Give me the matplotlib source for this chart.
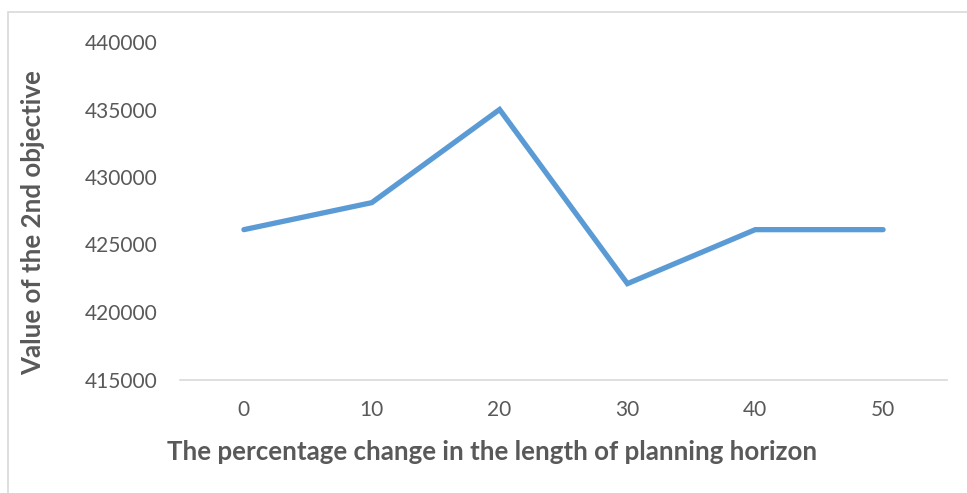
import matplotlib.pyplot as plt
from matplotlib.patches import Rectangle

# percentage change in planning horizon vs value of 2nd objective
pct_change = ["0", "10", "20", "30", "40", "50"]
obj2_value = [426100, 428100, 435000, 422100, 426100, 426100]

y_ticks = [415000, 420000, 425000, 430000, 435000, 440000]

txt_col = "#595959"
plt.rcParams['font.family'] = ['Lato', 'DejaVu Sans']

fig = plt.figure(figsize=(9.67, 4.93), dpi=100)
ax = fig.add_axes([180 / 967, 1 - 379.5 / 493, (947 - 180) / 967, (379.5 - 42) / 493])

xs = range(len(pct_change))
ax.plot(xs, obj2_value, color="#5B9BD5", lw=3.8, solid_capstyle="round",
        solid_joinstyle="miter")

ax.set_xlim(-0.5, len(pct_change) - 0.5)
ax.set_ylim(415000, 440000)
ax.set_xticks(list(xs))
ax.set_xticklabels(pct_change)
ax.set_yticks(y_ticks)
ax.set_yticklabels([str(v) for v in y_ticks])

for s in ["top", "right", "left"]:
    ax.spines[s].set_visible(False)
ax.spines["bottom"].set_color("#D9D9D9")
ax.spines["bottom"].set_linewidth(1.2)
ax.tick_params(axis="both", length=0, labelsize=15, labelcolor=txt_col)
ax.tick_params(axis="y", pad=16.5)
ax.tick_params(axis="x", pad=15)

# axis titles
fig.text(492 / 967, 1 - 452 / 493,
         "The percentage change in the length of planning horizon",
         fontsize=18.6, fontweight="bold", color=txt_col, ha="center", va="center")
fig.text(33 / 967, 1 - 223 / 493, "Value of the 2nd objective", rotation=90,
         fontsize=18.6, fontweight="bold", color=txt_col, ha="center", va="center")

# chart area border (runs past the right and bottom edges)
fig.patches.append(Rectangle((8 / 967, -0.1), 1.2, 1 - 12 / 493 + 0.1,
                             transform=fig.transFigure, fill=False,
                             edgecolor="#D9D9D9", lw=1.2))

fig.savefig("out.png", dpi=100)
